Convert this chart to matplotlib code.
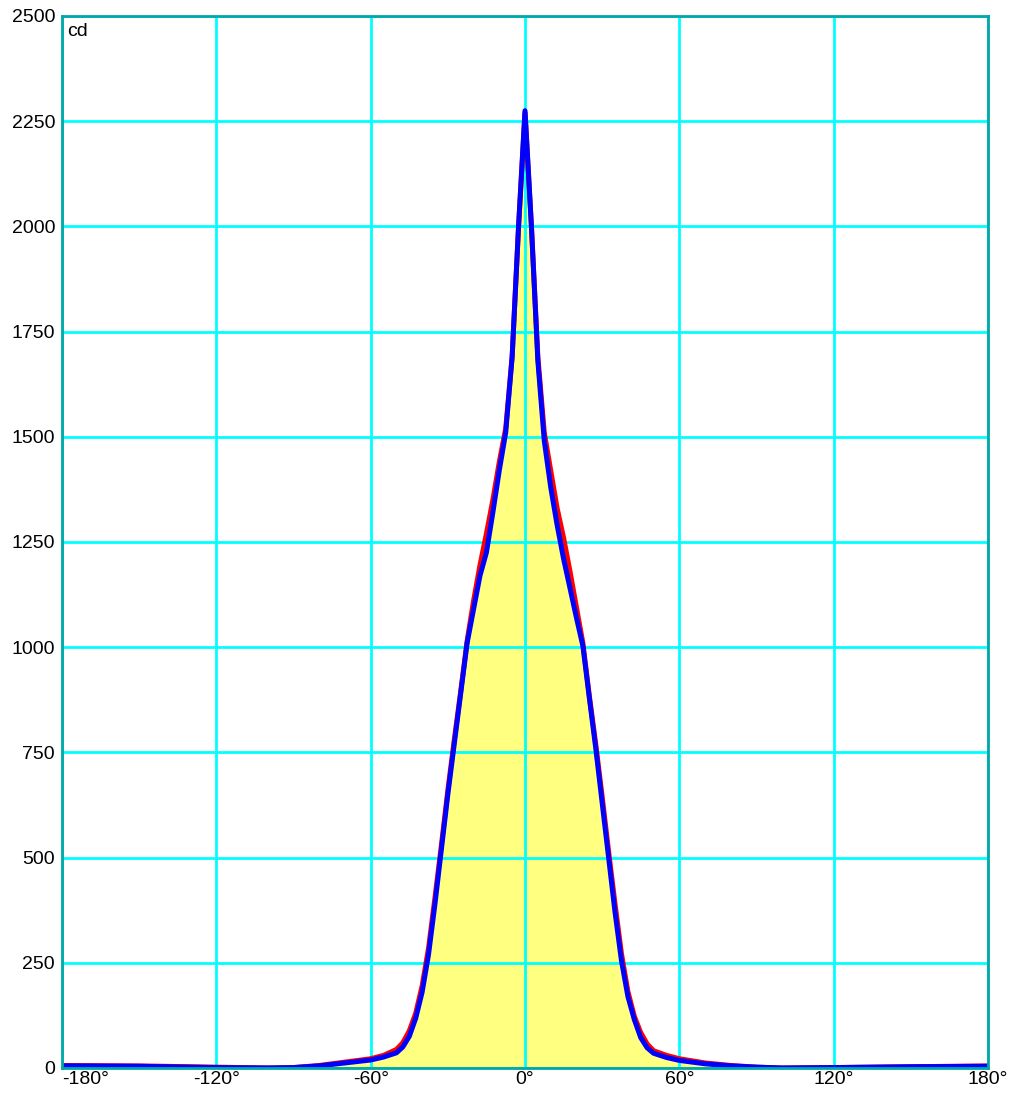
import numpy as np
import matplotlib
matplotlib.use("Agg")
from matplotlib import pyplot as plt

plt.rcParams["font.family"] = ["Liberation Sans", "DejaVu Sans"]

# angles (deg) and intensities (cd)
angles = [-180, -150, -120, -100, -90, -80, -70, -60, -55, -50, -47.5, -45, -42.5, -40,
          -37.5, -35, -32.5, -30, -27.5, -25, -22.5, -20, -17.5, -15, -12.5, -10, -7.5,
          -5, -2.5, 0, 2.5, 5, 7.5, 10, 12.5, 15, 17.5, 20, 22.5, 25, 27.5, 30, 32.5,
          35, 37.5, 40, 42.5, 45, 47.5, 50, 55, 60, 70, 80, 90, 100, 120, 150, 180]

cd_blue = [5, 4, 1, 0, 1, 5, 12, 19, 26, 36, 50, 75, 118, 180,
           270, 390, 520, 650, 770, 890, 1010, 1090, 1170, 1225, 1320, 1420, 1510,
           1690, 2000, 2275, 2000, 1680, 1490, 1380, 1290, 1210, 1140, 1070, 1003, 880, 760, 630, 500,
           370, 255, 170, 115, 72, 48, 35, 25, 18, 10, 5, 2, 0, 1, 3, 4]

cd_red = [6, 5, 2, 0, 1, 6, 14, 22, 30, 44, 60, 88, 130, 195,
          285, 405, 530, 660, 780, 895, 1015, 1110, 1195, 1270, 1350, 1440, 1520,
          1690, 2000, 2270, 2000, 1690, 1510, 1420, 1330, 1260, 1180, 1095, 1010, 885, 770, 645, 515,
          390, 272, 182, 123, 84, 57, 41, 30, 22, 12, 6, 2, 0, 1, 3, 5]

xticks = [-180, -120, -60, 0, 60, 120, 180]
yticks = [0, 250, 500, 750, 1000, 1250, 1500, 1750, 2000, 2250, 2500]

fig = plt.figure(figsize=(10.13, 10.95), dpi=100)
ax = fig.add_axes([62/1013, 27/1095, 926/1013, 1052/1095])

ax.fill_between(angles, cd_red, 0, color="#ffff80", lw=0, zorder=1)
ax.plot(angles, cd_red, color="red", lw=3.6, zorder=3, solid_joinstyle="round")
ax.plot(angles, cd_blue, color="blue", lw=3.6, zorder=4, solid_joinstyle="round")

ax.set_xlim(-180, 180)
ax.set_ylim(0, 2500)
ax.set_xticks(xticks)
ax.set_xticklabels([f"{t}°" for t in xticks])
ax.set_yticks(yticks)
ax.grid(True, color="cyan", lw=2, zorder=2)
ax.set_axisbelow(False)
ax.tick_params(axis="y", length=0, labelsize=14, pad=5)
ax.tick_params(axis="x", length=0, labelsize=14, pad=2)
ax.get_xticklabels()[0].set_ha("left")
for s in ax.spines.values():
    s.set_color("#00a8a8")
    s.set_linewidth(2)
    s.set_zorder(5)

ax.text(0.005, 0.993, "cd", transform=ax.transAxes, fontsize=14, va="top", ha="left")

plt.savefig("out.png")
